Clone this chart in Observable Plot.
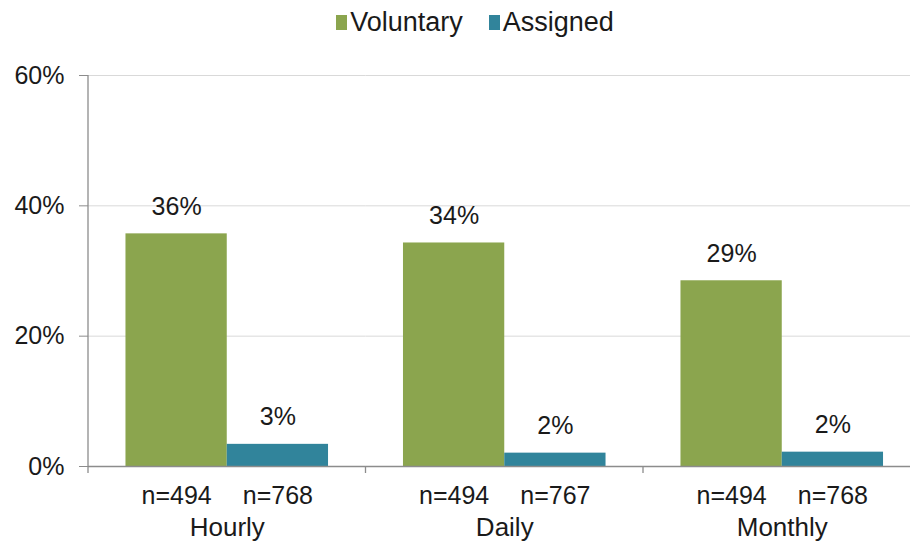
<!DOCTYPE html>
<html>
<head>
<meta charset="utf-8">
<script src="https://cdn.jsdelivr.net/npm/d3@7"></script>
<script src="https://cdn.jsdelivr.net/npm/@observablehq/plot@0.6"></script>
<style>
  html, body { margin: 0; padding: 0; background: #fff; width: 910px; height: 542px; overflow: hidden; }
  #legend {
    height: 45px; display: flex; justify-content: center; align-items: center;
    padding-left: 40px; box-sizing: border-box;
    font-family: "Liberation Sans", Arial, sans-serif; font-size: 27px; color: #1a1a1a;
  }
  .item { display: flex; align-items: center; margin: 0 13px; }
  .sw { width: 11px; height: 15px; margin-right: 3px; }
</style>
</head>
<body>
<div id="legend"></div>
<div id="chart"></div>
<script>
// ---- data ----
const categories = ["Hourly", "Daily", "Monthly"];
const series = ["Voluntary", "Assigned"];
const voluntary = [35.7, 34.3, 28.5];
const assigned = [3.4, 2.05, 2.2];
const voluntaryN = [494, 494, 494];
const assignedN = [768, 767, 768];
const yTicks = [0, 20, 40, 60];
const colors = ["#8BA54E", "#31849B"];

const rows = [];
categories.forEach((c, i) => {
  rows.push({category: c, series: "Voluntary", value: voluntary[i], n: voluntaryN[i]});
  rows.push({category: c, series: "Assigned", value: assigned[i], n: assignedN[i]});
});

// ---- legend ----
const legend = d3.select("#legend");
series.forEach((s, i) => {
  const it = legend.append("div").attr("class", "item");
  it.append("div").attr("class", "sw").style("background", colors[i]);
  it.append("span").text(s);
});

// ---- chart ----
const W = 910, H = 497;
const font = "'Liberation Sans', Arial, sans-serif";
const chart = Plot.plot({
  width: W, height: H,
  marginTop: 30, marginBottom: 76, marginLeft: 88, marginRight: 0,
  style: {fontFamily: font, fontSize: "25px", color: "#1a1a1a", background: "#fff"},
  fx: {domain: categories, range: [88, 920.5], padding: 0, round: false, axis: null},
  x: {domain: series, paddingInner: 0, paddingOuter: 0.37, round: false, axis: null},
  y: {domain: [0, 60], axis: null},
  color: {domain: series, range: colors},
  marks: [
    Plot.gridY(yTicks, {stroke: "#d9d9d9", strokeOpacity: 1}),
    Plot.axisY(yTicks, {anchor: "left", tickSize: 9, tickPadding: 15, stroke: "#8c8c8c",
      tickFormat: d => d + "%", fontSize: 25, fill: "#1a1a1a", label: null}),
    Plot.barY(rows, {fx: "category", x: "series", y: "value", fill: "series"}),
    Plot.ruleY([0], {stroke: "#8c8c8c", strokeWidth: 1.3}),
    Plot.text(rows, {fx: "category", x: "series", y: "value",
      text: d => Math.round(d.value) + "%", dy: -27, lineAnchor: "middle", fontSize: 25, fill: "#1a1a1a"}),
    Plot.text(rows, {fx: "category", x: "series", frameAnchor: "bottom",
      text: d => "n=" + d.n, dy: 29, lineAnchor: "middle", fontSize: 25, fill: "#1a1a1a"}),
    Plot.text(categories, {fx: d => d, frameAnchor: "bottom",
      text: d => d, dy: 61, lineAnchor: "middle", fontSize: 26, fill: "#1a1a1a"})
  ]
});
document.getElementById("chart").appendChild(chart);

// axis line and category separators, positioned from the plot's own scales
const fx = chart.scale("fx"), y = chart.scale("y");
const svg = d3.select(chart);
const y0 = y.apply(0), yTop = y.apply(60);
const bounds = categories.map(c => fx.apply(c));
bounds.forEach((bx, i) => {
  svg.append("line")
    .attr("x1", bx).attr("x2", bx)
    .attr("y1", i === 0 ? yTop : y0).attr("y2", y0 + 7)
    .attr("stroke", "#8c8c8c").attr("stroke-width", 1.3);
});
</script>
</body>
</html>
